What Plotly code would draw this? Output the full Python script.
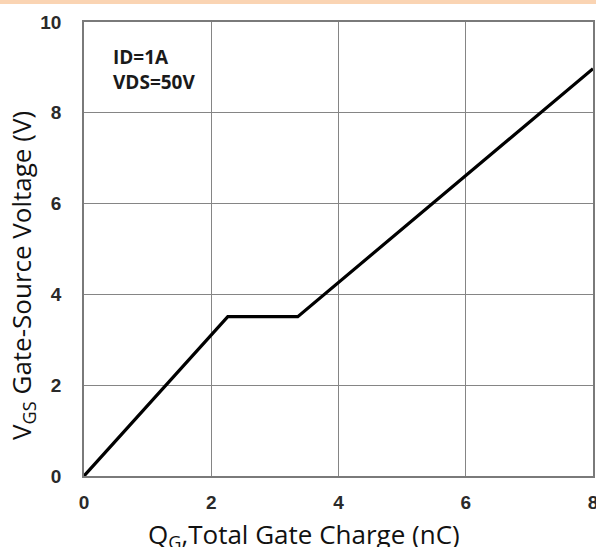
import plotly.graph_objects as go

charge_nc = [0.0, 2.26, 3.36, 8.0]
vgs_v = [0.0, 3.51, 3.51, 8.97]
x_ticks = [0, 2, 4, 6, 8]
y_ticks = [0, 2, 4, 6, 8, 10]
note_lines = ["ID=1A", "VDS=50V"]
x_title = "Q<sub>G</sub>,Total Gate Charge (nC)"
y_title = "V<sub>GS</sub> Gate-Source Voltage (V)"

W, H = 596, 547
L, R, T, B = 84, 3, 22, 71
PW, PH = W - L - R, H - T - B

fig = go.Figure()
fig.add_trace(go.Scatter(x=charge_nc, y=vgs_v, mode="lines",
                         line=dict(color="#000000", width=3.2), showlegend=False))

axis_common = dict(showgrid=True, gridcolor="#858585", gridwidth=1.4,
                   showline=True, linecolor="#7a7a7a", linewidth=1.6, mirror=True,
                   zeroline=False, ticks="", automargin=False, ticklabeloverflow="allow",
                   tickfont=dict(family="Liberation Sans", size=19, color="#2a2a2a", weight="bold"))

fig.update_xaxes(range=[0, 8], tickvals=x_ticks, ticktext=[str(v) for v in x_ticks],
                 ticklabelstandoff=8, **axis_common)
fig.update_yaxes(range=[0, 10], tickvals=y_ticks, ticktext=[str(v) for v in y_ticks],
                 ticklabelstandoff=17, **axis_common)

fig.add_annotation(x=0.42, y=9.57, xref="x", yref="y", xanchor="left", yanchor="top",
                   text="<br>".join(note_lines), showarrow=False, align="left",
                   font=dict(family="Open Sans", size=19, color="#1a1a1a", weight="bold"))

fig.add_annotation(x=(304 - L) / PW, y=(T + PH - 535) / PH, xref="paper", yref="paper",
                   xanchor="center", yanchor="middle", text=x_title, showarrow=False,
                   font=dict(family="Open Sans", size=26, color="#111111"))
fig.add_annotation(x=(22 - L) / PW, y=(T + PH - 276) / PH, xref="paper", yref="paper",
                   xanchor="center", yanchor="middle", text=y_title, showarrow=False,
                   textangle=-90,
                   font=dict(family="Open Sans", size=26, color="#111111"))

fig.add_shape(type="rect", xref="paper", yref="paper", x0=-0.3, x1=1.3,
              y0=1 + (T - 4) / PH, y1=1 + (T + 2) / PH, fillcolor="#fad4b3",
              line=dict(width=0), layer="above")

fig.update_layout(width=W, height=H, margin=dict(l=L, r=R, t=T, b=B),
                  paper_bgcolor="white", plot_bgcolor="white")
fig.write_html("out.html", config={"displayModeBar": False},
               post_script="document.body.style.margin='0';document.body.style.overflow='hidden';")
